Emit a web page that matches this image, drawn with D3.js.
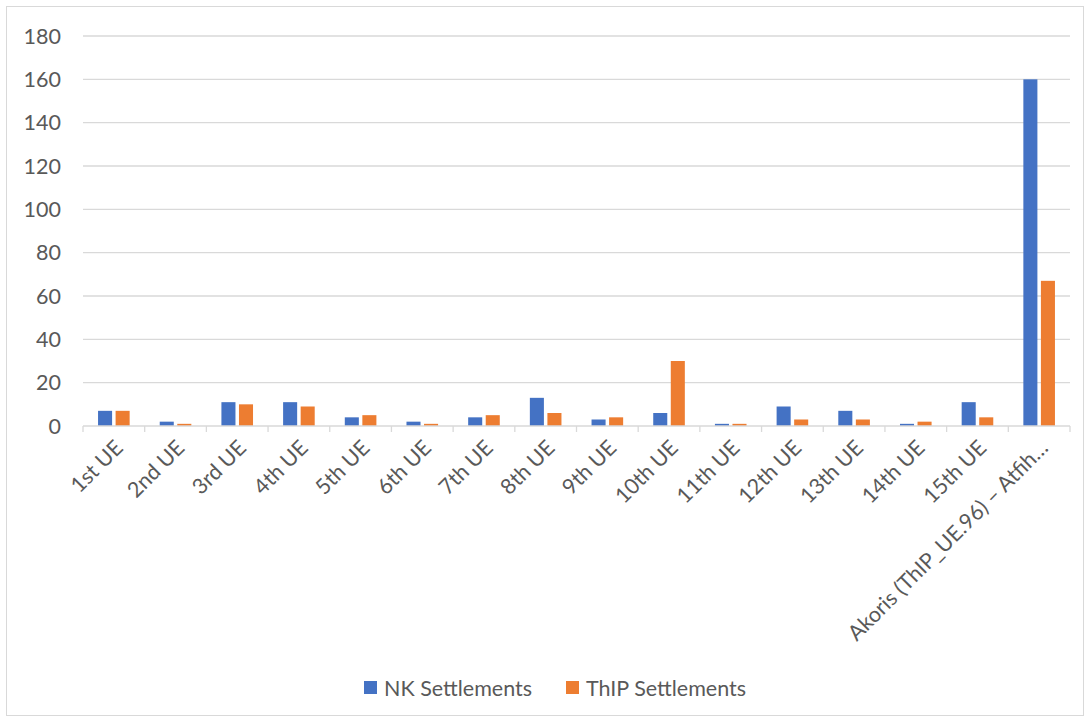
<!DOCTYPE html>
<html>
<head>
<meta charset="utf-8">
<script src="https://cdn.jsdelivr.net/npm/d3@7"></script>
<style>
  body { margin: 0; background: #fff; }
  svg { font-family: Lato, "Open Sans", sans-serif; }
</style>
</head>
<body>
<svg id="chart" width="1090" height="722"></svg>
<script>
// categorie e valori
const categories = ["1st UE", "2nd UE", "3rd UE", "4th UE", "5th UE", "6th UE", "7th UE", "8th UE",
  "9th UE", "10th UE", "11th UE", "12th UE", "13th UE", "14th UE", "15th UE",
  "Akoris (ThIP_UE.96) – Atfih…"];
const seriesNames = ["NK Settlements", "ThIP Settlements"];
const nkValues = [7, 2, 11, 11, 4, 2, 4, 13, 3, 6, 1, 9, 7, 1, 11, 160];
const thipValues = [7, 1, 10, 9, 5, 1, 5, 6, 4, 30, 1, 3, 3, 2, 4, 67];
const yTicks = [0, 20, 40, 60, 80, 100, 120, 140, 160, 180];
const colors = ["#4472c4", "#ed7d31"];

const width = 1090, height = 722;
const margin = { top: 36, right: 20, bottom: 296, left: 83 };
const fontSize = "21.5px";

const svg = d3.select("#chart");

// bordo esterno
svg.append("rect")
  .attr("x", 6.5).attr("y", 6.5)
  .attr("width", width - 13).attr("height", height - 13)
  .attr("fill", "none").attr("stroke", "#d9d9d9");

const x0 = d3.scaleBand()
  .domain(categories)
  .range([margin.left, width - margin.right]);

const x1 = d3.scaleBand()
  .domain(seriesNames)
  .range([x0.bandwidth() / 2 - 15.8, x0.bandwidth() / 2 + 15.8])
  .paddingInner(0.2);

const y = d3.scaleLinear()
  .domain([0, 180])
  .range([height - margin.bottom, margin.top]);

// griglia orizzontale
svg.append("g")
  .selectAll("line")
  .data(yTicks.filter(d => d > 0))
  .join("line")
  .attr("x1", margin.left).attr("x2", width - margin.right)
  .attr("y1", d => y(d)).attr("y2", d => y(d))
  .attr("stroke", "#d9d9d9").attr("stroke-width", 1.3);

// etichette asse y
svg.append("g")
  .selectAll("text")
  .data(yTicks)
  .join("text")
  .attr("x", 61)
  .attr("y", d => y(d))
  .attr("dy", "0.36em")
  .attr("text-anchor", "end")
  .attr("fill", "#595959")
  .style("font-size", fontSize)
  .text(d => d);

// barre
const groups = svg.append("g")
  .selectAll("g")
  .data(categories)
  .join("g")
  .attr("transform", d => `translate(${x0(d)},0)`);

groups.selectAll("rect")
  .data((d, i) => [nkValues[i], thipValues[i]].map((v, j) => ({ key: seriesNames[j], value: v, c: j })))
  .join("rect")
  .attr("x", d => x1(d.key))
  .attr("width", x1.bandwidth())
  .attr("y", d => y(d.value))
  .attr("height", d => y(0) - y(d.value))
  .attr("fill", d => colors[d.c]);

// asse x con tacche
const y0 = y(0);
svg.append("line")
  .attr("x1", margin.left).attr("x2", width - margin.right)
  .attr("y1", y0).attr("y2", y0)
  .attr("stroke", "#d9d9d9").attr("stroke-width", 1.3);

svg.append("g")
  .selectAll("line")
  .data(d3.range(categories.length + 1))
  .join("line")
  .attr("x1", i => margin.left + i * x0.step())
  .attr("x2", i => margin.left + i * x0.step())
  .attr("y1", y0).attr("y2", y0 + 6)
  .attr("stroke", "#d9d9d9").attr("stroke-width", 1.3);

// etichette categorie ruotate
svg.append("g")
  .selectAll("text")
  .data(categories)
  .join("text")
  .attr("transform", d => `translate(${x0(d) + x0.bandwidth() / 2 + 5},${y0 + 18}) rotate(-45)`)
  .attr("text-anchor", "end")
  .attr("dy", "0.35em")
  .attr("fill", "#595959")
  .style("font-size", fontSize)
  .text(d => d);

// legenda
const legend = svg.append("g").attr("transform", "translate(364,688)");
const legendX = [0, 202];
seriesNames.forEach((s, i) => {
  const g = legend.append("g").attr("transform", `translate(${legendX[i]},0)`);
  g.append("rect")
    .attr("x", 0).attr("y", -7)
    .attr("width", 13).attr("height", 13)
    .attr("fill", colors[i]);
  g.append("text")
    .attr("x", 20).attr("y", 0)
    .attr("dy", "0.35em")
    .attr("fill", "#595959")
    .style("font-size", fontSize)
    .text(s);
});
</script>
</body>
</html>
